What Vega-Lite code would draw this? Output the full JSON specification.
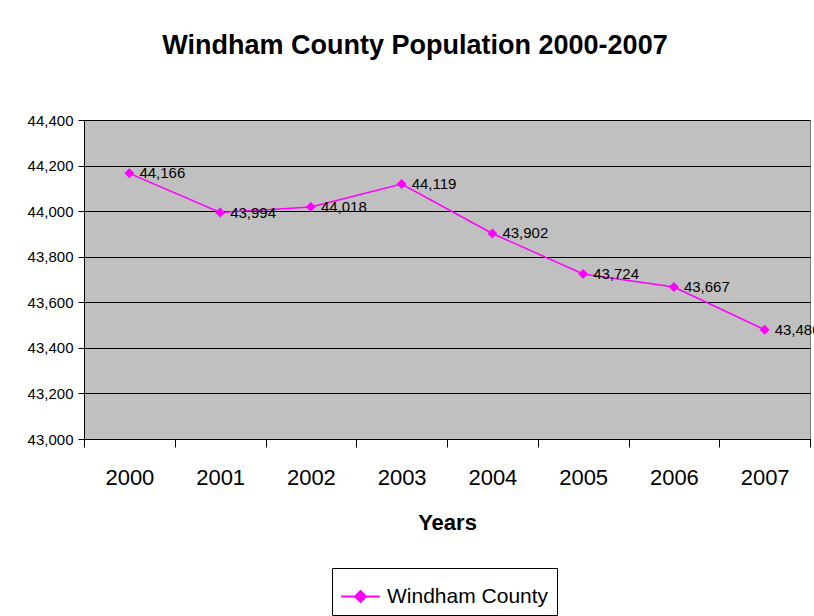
{
  "$schema": "https://vega.github.io/schema/vega-lite/v6.json",
  "autosize": {"type": "none"},
  "width": 726,
  "height": 319,
  "padding": {"left": 84, "top": 120, "right": 4, "bottom": 177},
  "background": "white",
  "title": {
    "text": "Windham County Population 2000-2007",
    "font": "Liberation Sans",
    "fontSize": 27,
    "fontWeight": "bold",
    "color": "black",
    "anchor": "middle",
    "frame": "group",
    "dx": -32,
    "offset": 53
  },
  "data": {
    "values": [
      {"year": "2000", "pop": 44166, "series": "Windham County"},
      {"year": "2001", "pop": 43994, "series": "Windham County"},
      {"year": "2002", "pop": 44018, "series": "Windham County"},
      {"year": "2003", "pop": 44119, "series": "Windham County"},
      {"year": "2004", "pop": 43902, "series": "Windham County"},
      {"year": "2005", "pop": 43724, "series": "Windham County"},
      {"year": "2006", "pop": 43667, "series": "Windham County"},
      {"year": "2007", "pop": 43480, "series": "Windham County"}
    ]
  },
  "encoding": {
    "x": {
      "field": "year",
      "type": "ordinal",
      "scale": {"paddingInner": 0, "paddingOuter": 0},
      "axis": {
        "title": "Years",
        "titleFont": "Liberation Sans",
        "titleFontSize": 22,
        "titleFontWeight": "bold",
        "titleColor": "black",
        "titlePadding": 24,
        "labelFont": "Liberation Sans",
        "labelFontSize": 22,
        "labelColor": "black",
        "labelAngle": 0,
        "labelPadding": 20,
        "tickBand": "extent",
        "tickSize": 8,
        "tickColor": "black",
        "domainColor": "black",
        "grid": false
      }
    },
    "y": {
      "field": "pop",
      "type": "quantitative",
      "scale": {"domain": [43000, 44400], "nice": false, "zero": false},
      "axis": {
        "title": null,
        "values": [43000, 43200, 43400, 43600, 43800, 44000, 44200, 44400],
        "labelExpr": "format(datum.value, ',')",
        "labelFont": "Liberation Sans",
        "labelFontSize": 15,
        "labelColor": "black",
        "labelPadding": 5,
        "tickSize": 6,
        "tickColor": "black",
        "domainColor": "black",
        "grid": true,
        "gridColor": "black",
        "gridWidth": 1
      }
    }
  },
  "layer": [
    {
      "mark": {"type": "line", "strokeWidth": 1.5},
      "encoding": {
        "color": {
          "field": "series",
          "type": "nominal",
          "scale": {"range": ["#FF00FF"]},
          "legend": {
            "title": null,
            "orient": "none",
            "legendX": 248,
            "legendY": 448,
            "strokeColor": "black",
            "fillColor": "white",
            "padding": 8,
            "symbolType": "M-1,0H1M0,-0.28L0.28,0L0,0.28L-0.28,0Z",
            "symbolSize": 1500,
            "symbolStrokeWidth": 2,
            "symbolFillColor": "#FF00FF",
            "symbolStrokeColor": "#FF00FF",
            "labelFont": "Liberation Sans",
            "labelFontSize": 21,
            "labelColor": "black",
            "labelOffset": 6,
            "labelLimit": 300
          }
        }
      }
    },
    {
      "mark": {"type": "point", "shape": "diamond", "filled": true, "size": 100, "color": "#FF00FF", "opacity": 1}
    },
    {
      "mark": {"type": "text", "align": "left", "baseline": "middle", "dx": 10, "font": "Liberation Sans", "fontSize": 15, "color": "black"},
      "encoding": {"text": {"field": "pop", "type": "quantitative", "format": ","}}
    }
  ],
  "config": {
    "view": {"fill": "#C0C0C0", "stroke": "#808080", "strokeWidth": 1}
  }
}
